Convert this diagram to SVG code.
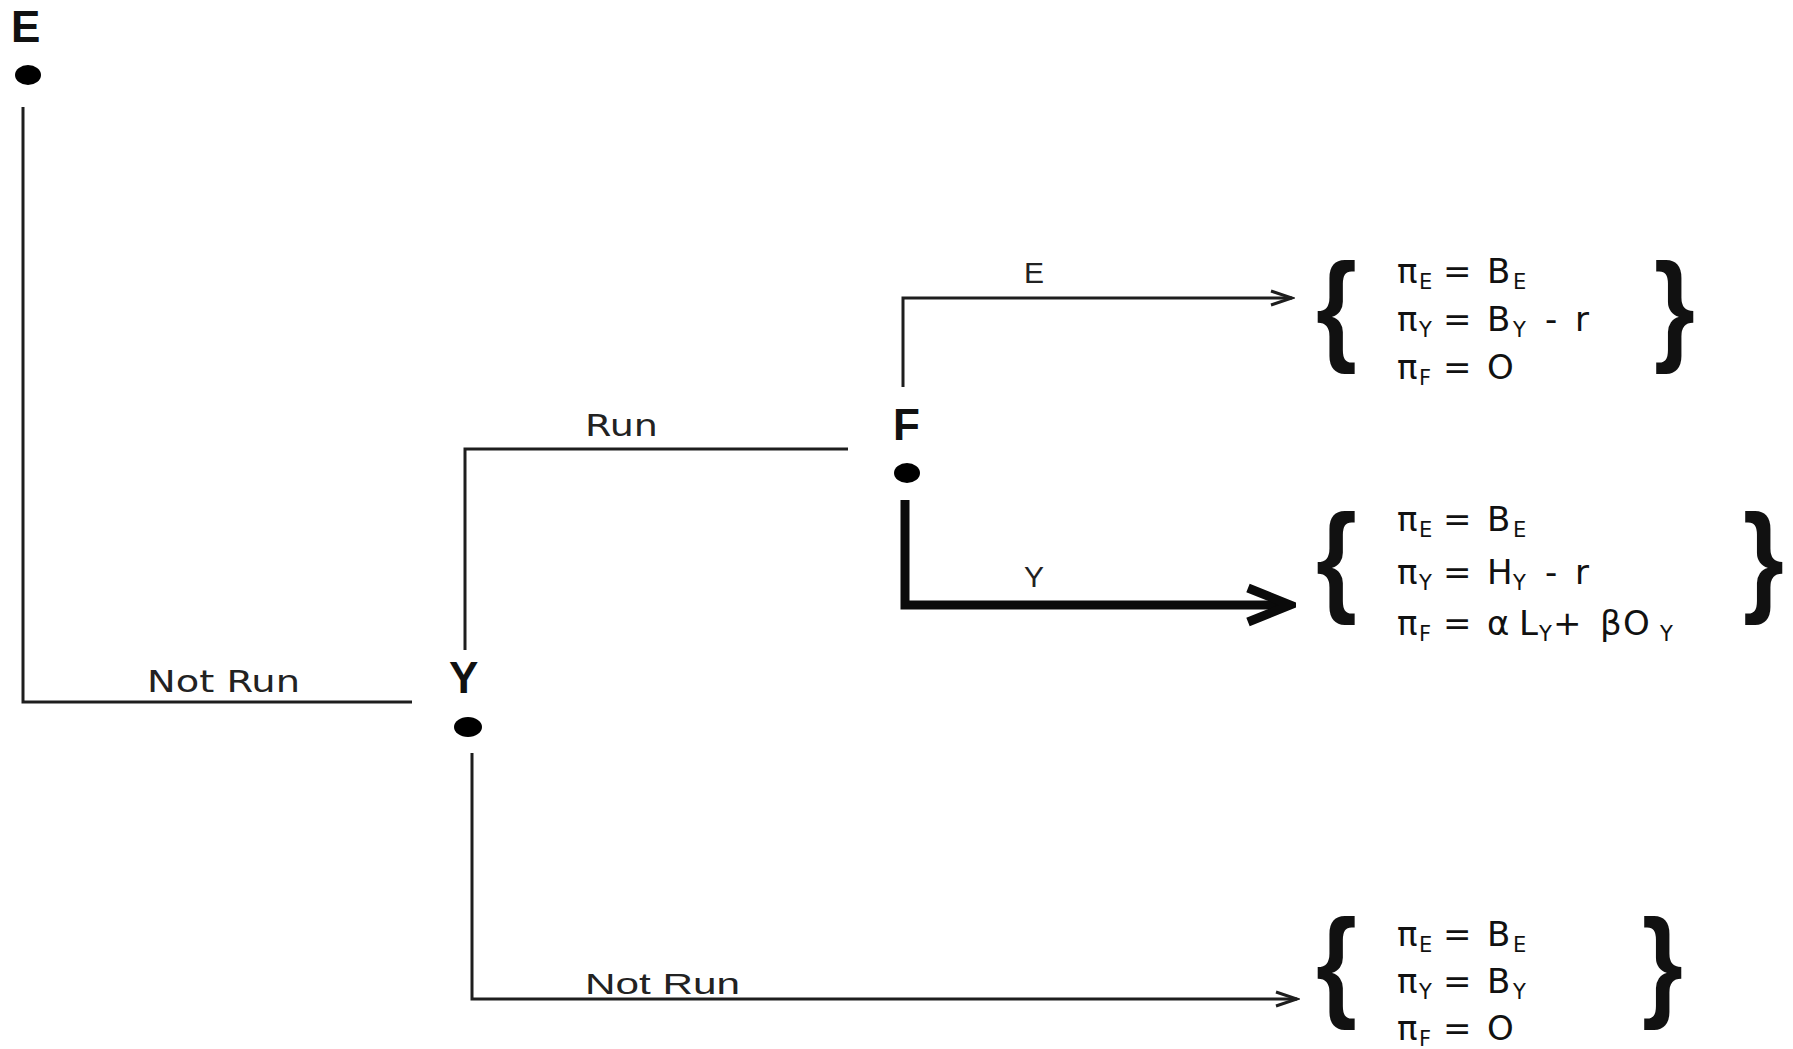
<svg xmlns="http://www.w3.org/2000/svg" width="1793" height="1049" viewBox="0 0 1793 1049">
<style>
.bg{fill:#ffffff}
.ln{fill:none;stroke:#1e1e1e;stroke-width:3}
.thick{fill:none;stroke:#0a0a0a;stroke-width:9}
.node{font-family:"Liberation Sans",Arial,sans-serif;font-weight:bold;font-size:44px;fill:#111}
.lbl{font-family:"DejaVu Sans","Liberation Sans",sans-serif;font-size:30px;fill:#222}
.lbl2{font-family:"Liberation Sans",Arial,sans-serif;font-size:30px;fill:#222}
.eq{font-family:"DejaVu Sans","Liberation Sans",sans-serif;font-size:34px;fill:#111}
.sub{font-size:21px}
.br{font-family:"Liberation Sans",Arial,sans-serif;font-weight:bold;font-size:100px;fill:#111}
</style>
<defs>
<marker id="arr" markerUnits="userSpaceOnUse" viewBox="0 0 26 18" markerWidth="26" markerHeight="18" refX="23" refY="9" orient="auto">
<path d="M2,2 L23,9 L2,16" fill="none" stroke="#1e1e1e" stroke-width="3"/>
</marker>
<marker id="arrT" markerUnits="userSpaceOnUse" viewBox="0 0 52 44" markerWidth="52" markerHeight="44" refX="46" refY="22" orient="auto">
<path d="M4,5 L46,22 L4,39" fill="none" stroke="#0a0a0a" stroke-width="9"/>
</marker>
</defs>
<rect class="bg" x="0" y="0" width="1793" height="1049"/>

<g id="connectors">
<polyline class="ln" points="23,107 23,702 412,702"/>
<polyline class="ln" points="465,650 465,449 848,449"/>
<polyline class="ln" points="472,753 472,999 1297,999" marker-end="url(#arr)"/>
<polyline class="ln" points="903,387 903,298 1292,298" marker-end="url(#arr)"/>
<polyline class="thick" points="905,500 905,605 1290,605" marker-end="url(#arrT)"/>
<text class="lbl" x="147" y="692" textLength="153" lengthAdjust="spacingAndGlyphs">Not Run</text>
<text class="lbl" x="585" y="436" textLength="73" lengthAdjust="spacingAndGlyphs">Run</text>
<text class="lbl2" x="1024" y="283">E</text>
<text class="lbl2" x="1024" y="587">Y</text>
<text class="lbl2" x="585" y="994" textLength="155" lengthAdjust="spacingAndGlyphs">Not Run</text>
</g>

<g id="node-E">
<text class="node" x="11" y="42">E</text>
<ellipse cx="28" cy="75" rx="13" ry="10" fill="#000"/>
</g>
<g id="node-Y">
<text class="node" x="449" y="693">Y</text>
<ellipse cx="468" cy="727" rx="14" ry="10" fill="#000"/>
</g>
<g id="node-F">
<text class="node" x="893" y="440">F</text>
<ellipse cx="907" cy="473" rx="13" ry="10" fill="#000"/>
</g>

<g id="payoff-1">
<text class="br" transform="translate(1316,349) scale(1.05,1.22)">{</text>
<text class="br" transform="translate(1654,349) scale(1.05,1.22)">}</text>
<text class="eq" y="283"><tspan x="1397">π</tspan><tspan class="sub" x="1419" dy="6">E</tspan><tspan x="1443" dy="-6">=</tspan><tspan x="1487">B</tspan><tspan class="sub" x="1513" dy="6">E</tspan></text>
<text class="eq" y="331"><tspan x="1397">π</tspan><tspan class="sub" x="1419" dy="6">Y</tspan><tspan x="1443" dy="-6">=</tspan><tspan x="1487">B</tspan><tspan class="sub" x="1513" dy="6">Y</tspan><tspan x="1545" dy="-6">-</tspan><tspan x="1575">r</tspan></text>
<text class="eq" y="379"><tspan x="1397">π</tspan><tspan class="sub" x="1419" dy="6">F</tspan><tspan x="1443" dy="-6">=</tspan><tspan x="1487">O</tspan></text>
</g>

<g id="payoff-2">
<text class="br" transform="translate(1316,600) scale(1.05,1.22)">{</text>
<text class="br" transform="translate(1743,600) scale(1.05,1.22)">}</text>
<text class="eq" y="531"><tspan x="1397">π</tspan><tspan class="sub" x="1419" dy="6">E</tspan><tspan x="1443" dy="-6">=</tspan><tspan x="1487">B</tspan><tspan class="sub" x="1513" dy="6">E</tspan></text>
<text class="eq" y="584"><tspan x="1397">π</tspan><tspan class="sub" x="1419" dy="6">Y</tspan><tspan x="1443" dy="-6">=</tspan><tspan x="1487">H</tspan><tspan class="sub" x="1513" dy="6">Y</tspan><tspan x="1545" dy="-6">-</tspan><tspan x="1575">r</tspan></text>
<text class="eq" y="635"><tspan x="1397">π</tspan><tspan class="sub" x="1419" dy="6">F</tspan><tspan x="1443" dy="-6">=</tspan><tspan x="1487">α</tspan><tspan x="1519">L</tspan><tspan class="sub" x="1539" dy="6">Y</tspan><tspan x="1553" dy="-6">+</tspan><tspan x="1600">β</tspan><tspan x="1623">O</tspan><tspan class="sub" x="1660" dy="6">Y</tspan></text>
</g>

<g id="payoff-3">
<text class="br" transform="translate(1316,1005) scale(1.05,1.22)">{</text>
<text class="br" transform="translate(1642,1005) scale(1.05,1.22)">}</text>
<text class="eq" y="946"><tspan x="1397">π</tspan><tspan class="sub" x="1419" dy="6">E</tspan><tspan x="1443" dy="-6">=</tspan><tspan x="1487">B</tspan><tspan class="sub" x="1513" dy="6">E</tspan></text>
<text class="eq" y="993"><tspan x="1397">π</tspan><tspan class="sub" x="1419" dy="6">Y</tspan><tspan x="1443" dy="-6">=</tspan><tspan x="1487">B</tspan><tspan class="sub" x="1513" dy="6">Y</tspan></text>
<text class="eq" y="1040"><tspan x="1397">π</tspan><tspan class="sub" x="1419" dy="6">F</tspan><tspan x="1443" dy="-6">=</tspan><tspan x="1487">O</tspan></text>
</g>
</svg>
